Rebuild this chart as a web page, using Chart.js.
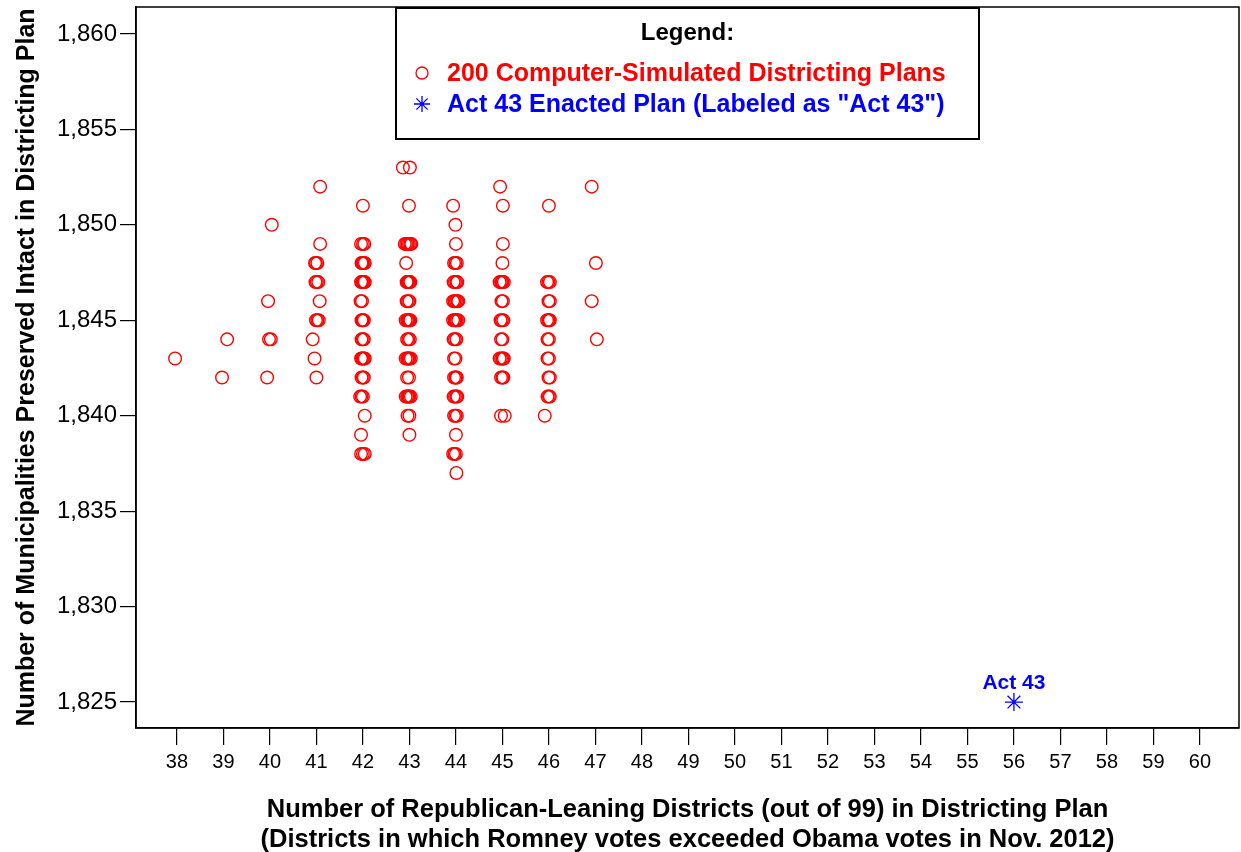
<!DOCTYPE html>
<html>
<head>
<meta charset="utf-8">
<script src="https://cdn.jsdelivr.net/npm/chart.js@4.4.1/dist/chart.umd.min.js"></script>
<style>
  html, body { margin: 0; padding: 0; background: #fff; }
  #wrap { width: 1241px; height: 852px; }
</style>
</head>
<body>
<div id="wrap"><canvas id="chart" width="1241" height="852"></canvas></div>
<script>
// tick labels
const xTicks = [38, 39, 40, 41, 42, 43, 44, 45, 46, 47, 48, 49, 50, 51, 52, 53, 54, 55, 56, 57, 58, 59, 60];
const yTicks = [1825, 1830, 1835, 1840, 1845, 1850, 1855, 1860];

// simulated plans, [republican districts (jittered as drawn), municipalities preserved]
const plansLow = [
  [37.96, 1843],
  [39.08, 1844], [38.97, 1842],
  [40.04, 1850], [39.96, 1846], [39.98, 1844], [40.02, 1844], [39.94, 1842],
  [41.08, 1852], [41.08, 1849], [40.97, 1848], [40.99, 1848], [41.02, 1848],
  [40.98, 1847], [41.01, 1847], [41.04, 1847], [41.07, 1846], [40.99, 1845],
  [41.02, 1845], [41.05, 1845], [40.92, 1844], [40.96, 1843], [41.0, 1842]
];
const plans42 = [
  [42.0, 1851],
  [41.96, 1849], [42.0, 1849], [42.03, 1849],
  [41.97, 1848], [42.0, 1848], [42.02, 1848], [42.04, 1848], [41.99, 1848],
  [41.96, 1847], [41.98, 1847], [42.0, 1847], [42.02, 1847], [42.04, 1847], [42.01, 1847],
  [41.95, 1846], [41.98, 1846],
  [41.97, 1845], [42.0, 1845], [42.02, 1845], [41.99, 1845],
  [41.97, 1844], [42.0, 1844], [42.02, 1844],
  [41.96, 1843], [41.98, 1843], [42.0, 1843], [42.02, 1843], [42.04, 1843],
  [41.97, 1842], [42.0, 1842], [42.02, 1842],
  [41.94, 1841], [41.97, 1841], [42.0, 1841],
  [42.04, 1840],
  [41.96, 1839],
  [41.96, 1838], [42.0, 1838], [42.04, 1838]
];
const plans43 = [
  [42.86, 1853], [43.01, 1853],
  [42.99, 1851],
  [42.9, 1849], [42.93, 1849], [42.96, 1849], [42.99, 1849], [43.02, 1849], [43.04, 1849],
  [42.93, 1848],
  [42.94, 1847], [42.97, 1847], [43.0, 1847], [43.02, 1847], [42.99, 1847], [42.96, 1847],
  [42.94, 1846], [42.97, 1846], [43.0, 1846],
  [42.92, 1845], [42.95, 1845], [42.98, 1845], [43.0, 1845], [43.02, 1845], [42.97, 1845],
  [42.95, 1844], [42.98, 1844], [43.01, 1844],
  [42.92, 1843], [42.95, 1843], [42.98, 1843], [43.0, 1843], [43.03, 1843], [42.97, 1843],
  [42.95, 1842], [42.99, 1842],
  [42.92, 1841], [42.95, 1841], [42.98, 1841], [43.0, 1841], [43.03, 1841], [42.97, 1841],
  [42.96, 1840], [43.0, 1840],
  [43.0, 1839]
];
const plans44 = [
  [43.94, 1851],
  [43.99, 1850],
  [44.0, 1849],
  [43.96, 1848], [43.99, 1848], [44.02, 1848],
  [43.95, 1847], [43.98, 1847], [44.01, 1847], [44.03, 1847],
  [43.94, 1846], [43.97, 1846], [44.0, 1846], [44.03, 1846], [44.05, 1846],
  [43.94, 1845], [43.97, 1845], [44.0, 1845], [44.02, 1845], [44.05, 1845], [43.99, 1845],
  [43.95, 1844], [43.98, 1844], [44.01, 1844],
  [43.96, 1843], [43.99, 1843],
  [43.96, 1842], [43.99, 1842], [44.02, 1842], [44.0, 1842],
  [43.95, 1841], [43.98, 1841], [44.01, 1841], [44.03, 1841],
  [43.96, 1840], [43.99, 1840], [44.02, 1840],
  [44.0, 1839],
  [43.94, 1838], [43.97, 1838], [44.0, 1838],
  [44.01, 1837]
];
const plans45 = [
  [44.95, 1852],
  [45.01, 1851],
  [45.01, 1849],
  [45.0, 1848],
  [44.94, 1847], [44.97, 1847], [45.0, 1847], [45.03, 1847], [44.99, 1847],
  [44.98, 1846], [45.01, 1846],
  [44.96, 1845], [44.99, 1845], [45.02, 1845],
  [44.97, 1844], [45.0, 1844],
  [44.94, 1843], [44.97, 1843], [45.0, 1843], [45.03, 1843], [45.01, 1843],
  [44.97, 1842], [45.0, 1842], [45.02, 1842],
  [44.97, 1840], [45.05, 1840]
];
const plans46 = [
  [46.0, 1851],
  [45.96, 1847], [45.99, 1847], [46.02, 1847],
  [45.99, 1846], [46.02, 1846],
  [45.96, 1845], [45.99, 1845], [46.02, 1845], [46.0, 1845],
  [45.97, 1844], [46.0, 1844],
  [45.97, 1843], [46.0, 1843],
  [45.99, 1842], [46.02, 1842],
  [45.97, 1841], [46.0, 1841], [46.02, 1841],
  [45.91, 1840]
];
const plans47 = [
  [46.92, 1852], [47.01, 1848], [46.92, 1846], [47.03, 1844]
];

// enacted plan
const act43Plan = [[56, 1825]];

const simLabel = '200 Computer-Simulated Districting Plans';
const actLabel = 'Act 43 Enacted Plan (Labeled as "Act 43")';

const toPoints = arr => arr.map(([x, y]) => ({ x, y }));
const simulated = [].concat(plansLow, plans42, plans43, plans44, plans45, plans46, plans47);

const FONT = '"Liberation Sans", Arial, sans-serif';

// box around plot, legend box and "Act 43" label
const decorations = {
  id: 'decorations',
  afterDatasetsDraw(chart) {
    const { ctx, chartArea: a, scales } = chart;
    ctx.save();
    ctx.strokeStyle = '#000';
    ctx.lineWidth = 1.5;
    ctx.strokeRect(a.left, a.top, a.right - a.left, a.bottom - a.top);

    // Act 43 label
    const px = scales.x.getPixelForValue(act43Plan[0][0]);
    const py = scales.y.getPixelForValue(act43Plan[0][1]);
    ctx.fillStyle = '#0000ff';
    ctx.font = 'bold 21px ' + FONT;
    ctx.textAlign = 'center';
    ctx.textBaseline = 'middle';
    ctx.fillText('Act 43', px, py - 19);

    // legend
    const bx = 396, by = 8, bw = 583, bh = 131;
    ctx.fillStyle = '#fff';
    ctx.fillRect(bx, by, bw, bh);
    ctx.strokeStyle = '#000';
    ctx.lineWidth = 2;
    ctx.strokeRect(bx, by, bw, bh);

    ctx.fillStyle = '#000';
    ctx.font = 'bold 24px ' + FONT;
    ctx.fillText('Legend:', bx + bw / 2, 33);

    ctx.textAlign = 'left';
    ctx.font = 'bold 25px ' + FONT;
    ctx.strokeStyle = '#ff0000';
    ctx.lineWidth = 1.3;
    ctx.beginPath();
    ctx.arc(422, 73, 6, 0, Math.PI * 2);
    ctx.stroke();
    ctx.fillStyle = '#ff0000';
    ctx.fillText(chart.data.datasets[0].label, 447, 74);

    ctx.strokeStyle = '#0000ff';
    ctx.lineWidth = 1.3;
    ctx.beginPath();
    for (let i = 0; i < 4; i++) {
      const ang = i * Math.PI / 4;
      ctx.moveTo(422 - 8 * Math.sin(ang), 104 - 8 * Math.cos(ang));
      ctx.lineTo(422 + 8 * Math.sin(ang), 104 + 8 * Math.cos(ang));
    }
    ctx.stroke();
    ctx.fillStyle = '#0000ff';
    ctx.fillText(chart.data.datasets[1].label, 447, 105);
    ctx.restore();
  }
};

new Chart(document.getElementById('chart'), {
  type: 'scatter',
  data: {
    datasets: [
      {
        label: simLabel,
        data: toPoints(simulated),
        pointStyle: 'circle',
        pointRadius: 6.3,
        pointHoverRadius: 6.3,
        borderWidth: 1.4,
        borderColor: '#ff0000',
        backgroundColor: 'rgba(0,0,0,0)'
      },
      {
        label: actLabel,
        data: toPoints(act43Plan),
        pointStyle: 'star',
        pointRadius: 9,
        pointHoverRadius: 9,
        borderWidth: 1.3,
        borderColor: '#0000ff',
        backgroundColor: 'rgba(0,0,0,0)'
      }
    ]
  },
  options: {
    responsive: false,
    animation: false,
    layout: { autoPadding: false, padding: { top: 7, right: 2, left: 0, bottom: 0 } },
    plugins: {
      legend: { display: false },
      tooltip: { enabled: false }
    },
    scales: {
      x: {
        type: 'linear',
        min: 37.12,
        max: 60.84,
        afterBuildTicks: s => { s.ticks = xTicks.map(v => ({ value: v })); },
        afterFit: s => { s.height = 124; s.paddingLeft = 0; s.paddingRight = 0; },
        grid: { drawOnChartArea: false, drawTicks: true, tickLength: 17, color: '#000', lineWidth: 1.2 },
        border: { display: true, color: '#000', width: 1.5 },
        ticks: {
          color: '#000',
          font: { family: FONT, size: 20 },
          padding: 5,
          maxRotation: 0,
          autoSkip: false
        },
        title: {
          display: true,
          text: [
            'Number of Republican-Leaning Districts (out of 99) in Districting Plan',
            '(Districts in which Romney votes exceeded Obama votes in Nov. 2012)'
          ],
          color: '#000',
          font: { family: FONT, size: 25.5, weight: 'bold', lineHeight: 1.18 },
          padding: { top: 0, bottom: -3 }
        }
      },
      y: {
        type: 'linear',
        min: 1823.64,
        max: 1861.41,
        afterBuildTicks: s => { s.ticks = yTicks.map(v => ({ value: v })); },
        afterFit: s => { s.width = 136; s.paddingTop = 0; s.paddingBottom = 0; },
        grid: { drawOnChartArea: false, drawTicks: true, tickLength: 16, color: '#000', lineWidth: 1.2 },
        border: { display: true, color: '#000', width: 1.5 },
        ticks: {
          color: '#000',
          font: { family: FONT, size: 24 },
          padding: 3
        },
        title: {
          display: true,
          text: 'Number of Municipalities Preserved Intact in Districting Plan',
          color: '#000',
          font: { family: FONT, size: 25, weight: 'bold', lineHeight: 1.2 },
          padding: { top: 12, bottom: 0 }
        }
      }
    }
  },
  plugins: [decorations]
});
</script>
</body>
</html>
